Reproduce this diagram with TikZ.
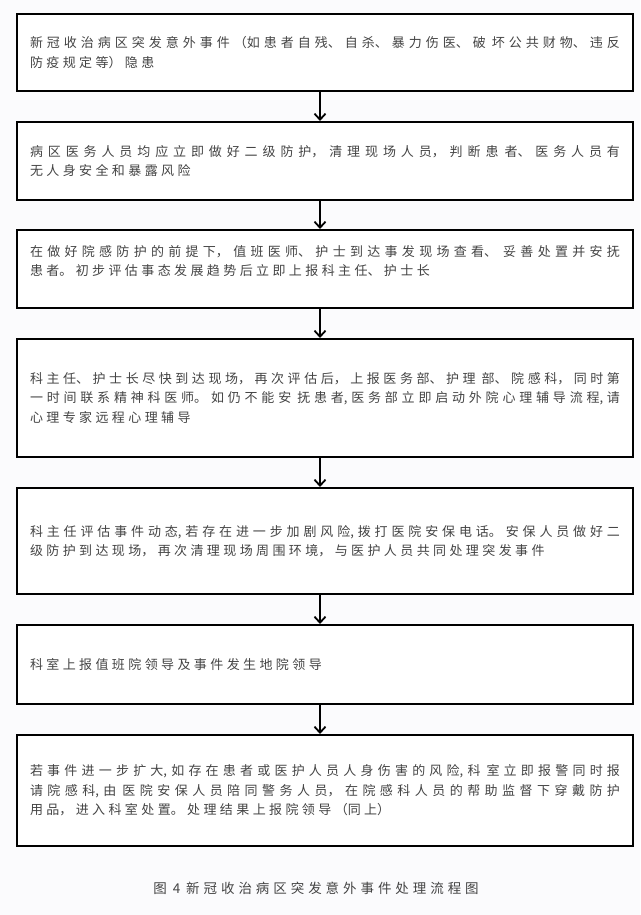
\documentclass[tikz,border=0pt]{standalone}
\usepackage{fontspec}
\setmainfont{Noto Sans CJK SC}
\usetikzlibrary{arrows.meta}
\XeTeXlinebreaklocale "zh"
\XeTeXlinebreakskip=3.4pt plus 2pt minus 2pt
\definecolor{bgc}{RGB}{251,251,253}
\definecolor{txtc}{RGB}{68,68,68}
\newcommand{\gp}{\hspace{6pt}}
\tikzset{
  boxnode/.style={draw=black, line width=2pt, fill=white, anchor=north west,
    minimum width=616pt, text width=590pt, align=justify, inner xsep=0pt,
    font=\fontsize{13pt}{19.5pt}\selectfont, text=txtc},
  arr/.style={line width=1.8pt, -{Straight Barb[length=6pt,width=11pt,line width=1.8pt]}},
  captionnode/.style={font=\fontsize{13.5pt}{16pt}\selectfont, text=txtc,
    text width=340pt, align=center}
}
\begin{document}
\begin{tikzpicture}[x=1pt,y=-1pt]
\useasboundingbox (0,0) rectangle (640,915);
\fill[bgc] (0,0) rectangle (640,915);
\coordinate (ax) at (320,0);
\node[boxnode, minimum height=77pt] (b1) at (16,13) {新冠收治病区突发意外事件（如患者自残、自杀、暴力伤医、破\gp 坏公共财物、违反\linebreak 防疫规定等）隐患};
\node[boxnode, minimum height=78pt] (b2) at (16,121) {病区医务人员均应立即做好二级防护，清理现场人员，判断患\gp 者、医务人员有\linebreak 无人身安全和暴露风险};
\node[boxnode, minimum height=78pt] (b3) at (16,229) {在做好院感防护的前提下，值班医师、护士到达事发现场查看、\gp 妥善处置并安抚\linebreak 患者。初步评估事态发展趋势后立即上报科主任、护士长\par\vspace*{16pt}};
\node[boxnode, minimum height=118pt] (b4) at (16,338) {科主任、护士长尽快到达现场，再次评估后，上报医务部、护理\gp 部、院感科，同时第\linebreak 一时间联系精神科医师。如仍不能安\gp 抚患者,医务部立即启动外院心理辅导流程,请\linebreak 心理专家远程心理辅导};
\node[boxnode, minimum height=106pt] (b5) at (16,487) {科主任评估事件动态,若存在进一步加剧风险,拨打医院安保电话。安保人员做好二\linebreak 级防护到达现场，再次清理现场周围环境，与医护人员共同处理突发事件};
\node[boxnode, minimum height=79pt] (b6) at (16,624) {科室上报值班院领导及事件发生地院领导};
\node[boxnode, minimum height=111pt] (b7) at (16,734) {若事件进一步扩大,如存在患者或医护人员人身伤害的风险,科\gp 室立即报警同时报\linebreak 请院感科,由\gp 医院安保人员陪同警务人员，在院感科人员的帮助监督下穿戴防护\linebreak 用品，进入科室处置。处理结果上报院领导（同上）};
\node[captionnode] (cap) at (316,888) {图\gp 4\gp 新冠收治病区突发意外事件处理流程图};
\draw[arr] (b1.south -| ax) -- (b2.north -| ax);
\draw[arr] (b2.south -| ax) -- (b3.north -| ax);
\draw[arr] (b3.south -| ax) -- (b4.north -| ax);
\draw[arr] (b4.south -| ax) -- (b5.north -| ax);
\draw[arr] (b5.south -| ax) -- (b6.north -| ax);
\draw[arr] (b6.south -| ax) -- (b7.north -| ax);
\end{tikzpicture}
\end{document}
